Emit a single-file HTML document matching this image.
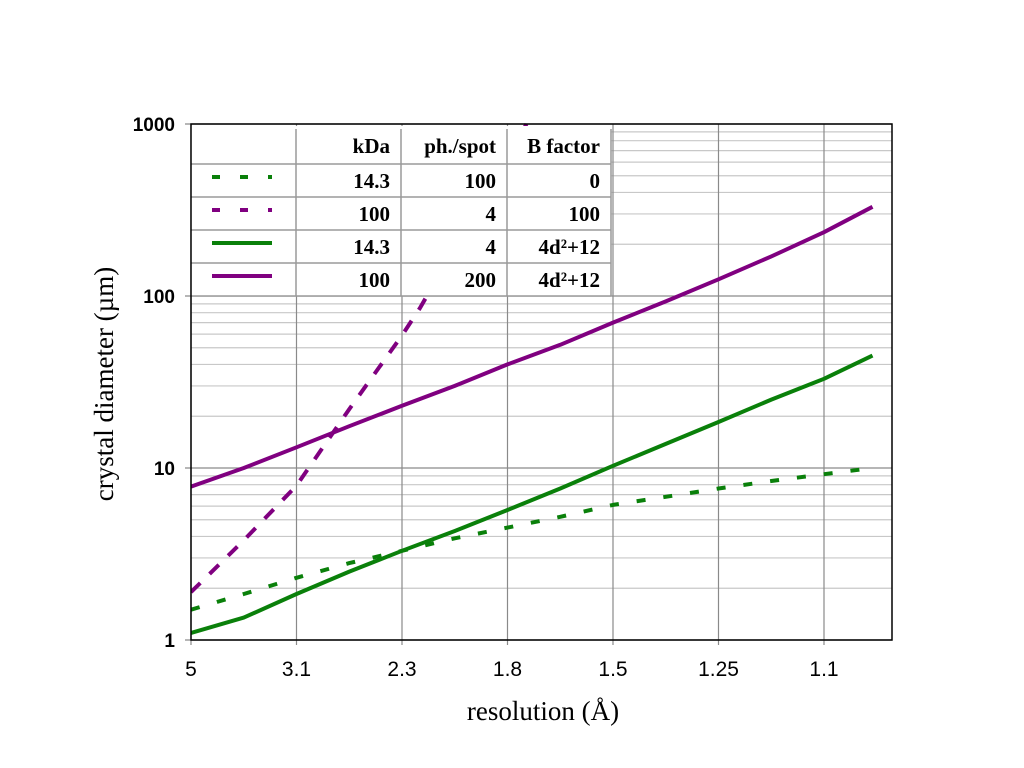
<!DOCTYPE html>
<html><head><meta charset="utf-8"><style>
html,body{margin:0;padding:0;background:#fff;}
svg{display:block;}
</style></head><body>
<svg id="chart" width="1024" height="768" viewBox="0 0 1024 768" xmlns="http://www.w3.org/2000/svg">
<g id="grid"></g>
<g id="series"></g>
<g id="legend"></g>
<g id="axes"></g>
<text x="543" y="720" text-anchor="middle" font-family="Liberation Serif, serif" font-size="27">resolution (Å)</text>
<text transform="translate(113,384) rotate(-90)" text-anchor="middle" font-family="Liberation Serif, serif" font-size="27">crystal diameter (µm)</text>
</svg>
<script>
const xTickLabels = ["5","3.1","2.3","1.8","1.5","1.25","1.1"];
const yTickValues = [1,10,100,1000];
const greenSolidT = [0,0.5,1,1.5,2,2.5,3,3.5,4,4.5,5,5.5,6,6.46];
const greenSolidV = [1.1,1.35,1.85,2.5,3.3,4.3,5.7,7.6,10.3,13.8,18.5,25,33,45];
const greenDashT = [0,0.5,1,1.5,2,2.5,3,3.5,4,4.5,5,5.5,6,6.46];
const greenDashV = [1.5,1.85,2.3,2.8,3.3,3.9,4.5,5.2,6.1,6.8,7.6,8.4,9.2,10];
const purpleSolidT = [0,0.5,1,1.5,2,2.5,3,3.5,4,4.5,5,5.5,6,6.46];
const purpleSolidV = [7.8,10,13.2,17.5,23,30,40,52,70,93,125,170,235,330];
const purpleDashT = [0,0.5,1,1.5,2,2.17,3.18];
const purpleDashV = [1.9,3.8,7.9,22,59,85,1000];

const NS="http://www.w3.org/2000/svg";
const X0=191, X1=892, Y0=640, Y1=124, STEP=105.5;
const xs = t => X0 + t*STEP;
const ys = v => Y0 - Math.log10(v) * (Y0-Y1)/3;
function mk(tag, attrs, parent){const e=document.createElementNS(NS,tag);for(const k in attrs)e.setAttribute(k,attrs[k]);parent.appendChild(e);return e;}
const grid=document.getElementById('grid'), axes=document.getElementById('axes'), series=document.getElementById('series'), legend=document.getElementById('legend');

for(let d=0; d<3; d++){
  for(let m=2; m<=9; m++){
    const y=ys(m*Math.pow(10,d));
    const l=mk('line',{x1:X0,x2:X1,y1:y,y2:y,stroke:'#c8c8c8','stroke-width':1.2},grid);
    
    
  }
}
yTickValues.forEach(v=>{
  const y=ys(v);
  const l=mk('line',{x1:X0-6,x2:X1,y1:y,y2:y,stroke:'#8a8a8a','stroke-width':1.2},grid);
  
  
  const t=mk('text',{x:175,y:y+7,'text-anchor':'end','font-family':'Liberation Sans, sans-serif','font-size':19,'font-weight':'bold'},axes);
  t.textContent=v;
  
  
});
xTickLabels.forEach((lab,i)=>{
  const x=xs(i);
  const l=mk('line',{x1:x,x2:x,y1:Y1,y2:Y0+5,stroke:'#8a8a8a','stroke-width':1.2},grid);
  
  
  const t=mk('text',{x:x,y:676,'text-anchor':'middle','font-family':'Liberation Sans, sans-serif','font-size':21},axes);
  t.textContent=lab;
  
  
});
const frame=mk('rect',{x:X0,y:Y1,width:X1-X0,height:Y0-Y1,fill:'none',stroke:'#000','stroke-width':1.5},axes);



const defs=mk('defs',{},series);
const cp=mk('clipPath',{id:'clip'},defs);
mk('rect',{x:X0,y:Y1-2,width:X1-X0,height:Y0-Y1+2},cp);
function drawLine(T,V,color,dash,name){
  const d=T.map((t,i)=>(i?'L':'M')+xs(t).toFixed(1)+','+ys(V[i]).toFixed(1)).join(' ');
  const p=mk('path',{d:d,fill:'none',stroke:color,'stroke-width':4,'clip-path':'url(#clip)','stroke-linejoin':'round'},series);
  if(dash)p.setAttribute('stroke-dasharray',dash);
  
  
}
drawLine(purpleDashT,purpleDashV,'#800080','13,13','series-100kda-b100-dashed');
drawLine(greenDashT,greenDashV,'#0a800a','9,18','series-14kda-b0-dashed');
drawLine(greenSolidT,greenSolidV,'#0a800a',null,'series-14kda-b4d2-solid');
drawLine(purpleSolidT,purpleSolidV,'#800080',null,'series-100kda-b4d2-solid');

const cols=[191,296,401,507,611], rows=[129,164,197,230,263,296];
const bg=mk('rect',{x:191,y:126,width:420,height:170,fill:'#fff'},legend);


rows.slice(1).forEach(y=>{const l=mk('line',{x1:191,x2:611,y1:y,y2:y,stroke:'#9a9a9a','stroke-width':1.5},legend);});
cols.slice(1).forEach(x=>{const l=mk('line',{x1:x,x2:x,y1:129,y2:296,stroke:'#9a9a9a','stroke-width':1.5},legend);});
const table=[["kDa","ph./spot","B factor"],["14.3","100","0"],["100","4","100"],["14.3","4","4d²+12"],["100","200","4d²+12"]];
table.forEach((r,ri)=>{
  r.forEach((txt,ci)=>{
    const t=mk('text',{x:cols[ci+2]-11,y:rows[ri]+(ri?24:24),'text-anchor':'end','font-family':'Liberation Serif, serif','font-size':21,'font-weight':'bold'},legend);
    t.textContent=txt;
    
    
  });
});
const sw=[['#0a800a','8,20'],['#800080','8,20'],['#0a800a',null],['#800080',null]];
sw.forEach((s,i)=>{
  const y=rows[i+1]+13;
  const l=mk('line',{x1:212,x2:272,y1:y,y2:y,stroke:s[0],'stroke-width':4},legend);
  if(s[1])l.setAttribute('stroke-dasharray',s[1]);
  
  
});
</script>
</body></html>
